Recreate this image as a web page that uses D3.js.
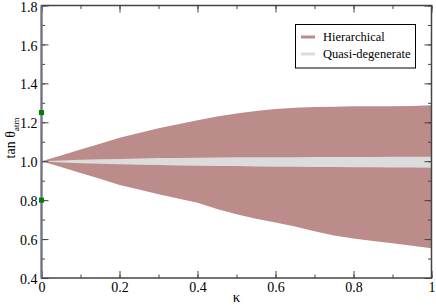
<!DOCTYPE html>
<html><head><meta charset="utf-8">
<script src="https://cdn.jsdelivr.net/npm/d3@7"></script>
<style>body{margin:0;background:#fff}svg{display:block}</style>
</head><body><svg id="c" width="436" height="305"></svg>
<script>
const kappa = [0,0.05,0.1,0.15,0.2,0.25,0.3,0.35,0.4,0.45,0.5,0.55,0.6,0.65,0.7,0.75,0.8,0.85,0.9,0.95,1.0];
const hierUpper = [1.0,1.03,1.06,1.09,1.12,1.145,1.17,1.19,1.21,1.23,1.245,1.258,1.268,1.275,1.278,1.28,1.282,1.283,1.282,1.284,1.287];
const hierLower = [1.0,0.97,0.94,0.91,0.878,0.855,0.83,0.808,0.787,0.755,0.727,0.705,0.685,0.665,0.64,0.618,0.603,0.59,0.578,0.566,0.553];
const quasiUpper = [1.0,1.004,1.007,1.01,1.012,1.014,1.016,1.017,1.018,1.019,1.02,1.02,1.021,1.021,1.022,1.022,1.022,1.022,1.023,1.023,1.023];
const quasiLower = [1.0,0.993,0.99,0.987,0.985,0.982,0.98,0.978,0.977,0.976,0.975,0.973,0.972,0.971,0.97,0.97,0.969,0.969,0.968,0.968,0.967];
const markerX = [0,0];
const markerY = [1.25,0.8];
const xTicks = [0,0.2,0.4,0.6,0.8,1];
const xTickLabels = ["0","0.2","0.4","0.6","0.8","1"];
const yTicks = [0.4,0.6,0.8,1.0,1.2,1.4,1.6,1.8];
const yTickLabels = ["0.4","0.6","0.8","1.0","1.2","1.4","1.6","1.8"];
const legendLabels = ["Hierarchical","Quasi-degenerate"];
const colors = ["#bc8c8a","#dcdcdc"];

const FONT = "'Liberation Serif', 'DejaVu Serif', 'Times New Roman', serif";
const svg = d3.select("#c");
const L=41.5,R=431.5,T=5.5,B=278;
const x = d3.scaleLinear().domain([0,1]).range([L,R]);
const y = d3.scaleLinear().domain([0.4,1.8]).range([B,T]);

const area = (lo,hi)=>d3.area().x((d,i)=>x(kappa[i])).y0((d,i)=>y(lo[i])).y1((d,i)=>y(hi[i]));
svg.append("path").attr("d",area(hierLower,hierUpper)(kappa)).attr("fill",colors[0]);
svg.append("path").attr("d",area(quasiLower,quasiUpper)(kappa)).attr("fill",colors[1]);

const minorX = d3.range(0,1.0001,0.1), minorY = d3.range(0.4,1.8001,0.1);
const axCol="#444";
svg.append("g").attr("transform",`translate(0,${B})`)
  .call(d3.axisBottom(x).tickValues(minorX).tickSize(-3.5).tickFormat(""));
svg.append("g").attr("transform",`translate(0,${B})`)
  .call(d3.axisBottom(x).tickValues(xTicks).tickSize(-7).tickPadding(4.5).tickFormat((d,i)=>xTickLabels[i]));
svg.append("g").attr("transform",`translate(0,${T})`)
  .call(d3.axisTop(x).tickValues(minorX).tickSize(-3.5).tickFormat(""));
svg.append("g").attr("transform",`translate(0,${T})`)
  .call(d3.axisTop(x).tickValues(xTicks).tickSize(-7).tickFormat(""));
svg.append("g").attr("transform",`translate(${L},0)`)
  .call(d3.axisLeft(y).tickValues(minorY).tickSize(-3.5).tickFormat(""));
const gY = svg.append("g").attr("transform",`translate(${L},0)`)
  .call(d3.axisLeft(y).tickValues(yTicks).tickSize(-7).tickPadding(4).tickFormat((d,i)=>yTickLabels[i]));
svg.append("g").attr("transform",`translate(${R},0)`)
  .call(d3.axisRight(y).tickValues(minorY).tickSize(-3.5).tickFormat(""));
svg.append("g").attr("transform",`translate(${R},0)`)
  .call(d3.axisRight(y).tickValues(yTicks).tickSize(-7).tickFormat(""));
svg.selectAll(".domain").remove();
svg.selectAll(".tick line").attr("stroke",axCol).attr("stroke-width",1);
svg.selectAll(".tick text").style("font-family",FONT).style("font-size","14px").attr("fill","#000");
gY.selectAll(".tick text").attr("dy","0.4em");
svg.selectAll("g").attr("font-family",null);
svg.append("rect").attr("x",L).attr("y",T).attr("width",R-L).attr("height",B-T)
  .attr("fill","none").attr("stroke",axCol).attr("stroke-width",1.5);
svg.append("line").attr("x1",L).attr("x2",L).attr("y1",T).attr("y2",B).attr("stroke","#707088").attr("stroke-width",2);

svg.selectAll(".mk").data(markerY).enter().append("rect")
  .attr("x",(d,i)=>x(markerX[i])-2.5).attr("y",d=>y(d)-2.5).attr("width",5).attr("height",5).attr("fill","#008000");

// legend
svg.append("rect").attr("x",295.5).attr("y",24.5).attr("width",120).attr("height",43.5)
  .attr("fill","#fff").attr("stroke","#000").attr("stroke-width",1);
legendLabels.forEach((t,i)=>{
  const yy = 37+i*17;
  svg.append("line").attr("x1",301).attr("x2",315).attr("y1",yy).attr("y2",yy).attr("stroke",colors[i]).attr("stroke-width",3);
  svg.append("text").attr("x",323).attr("y",yy+4).style("font-family",FONT).style("font-size","12.5px").text(t);
});

// axis labels
svg.append("text").attr("x",236.5).attr("y",302).attr("text-anchor","middle").style("font-family",FONT).style("font-size","15px").text("κ");
const yl = svg.append("text").attr("transform","translate(15,138) rotate(-90)").attr("text-anchor","middle").style("font-family",FONT).style("font-size","14px");
yl.append("tspan").text("tan θ");
yl.append("tspan").style("font-size","9px").attr("dy",4).text("atm");
</script></body></html>
